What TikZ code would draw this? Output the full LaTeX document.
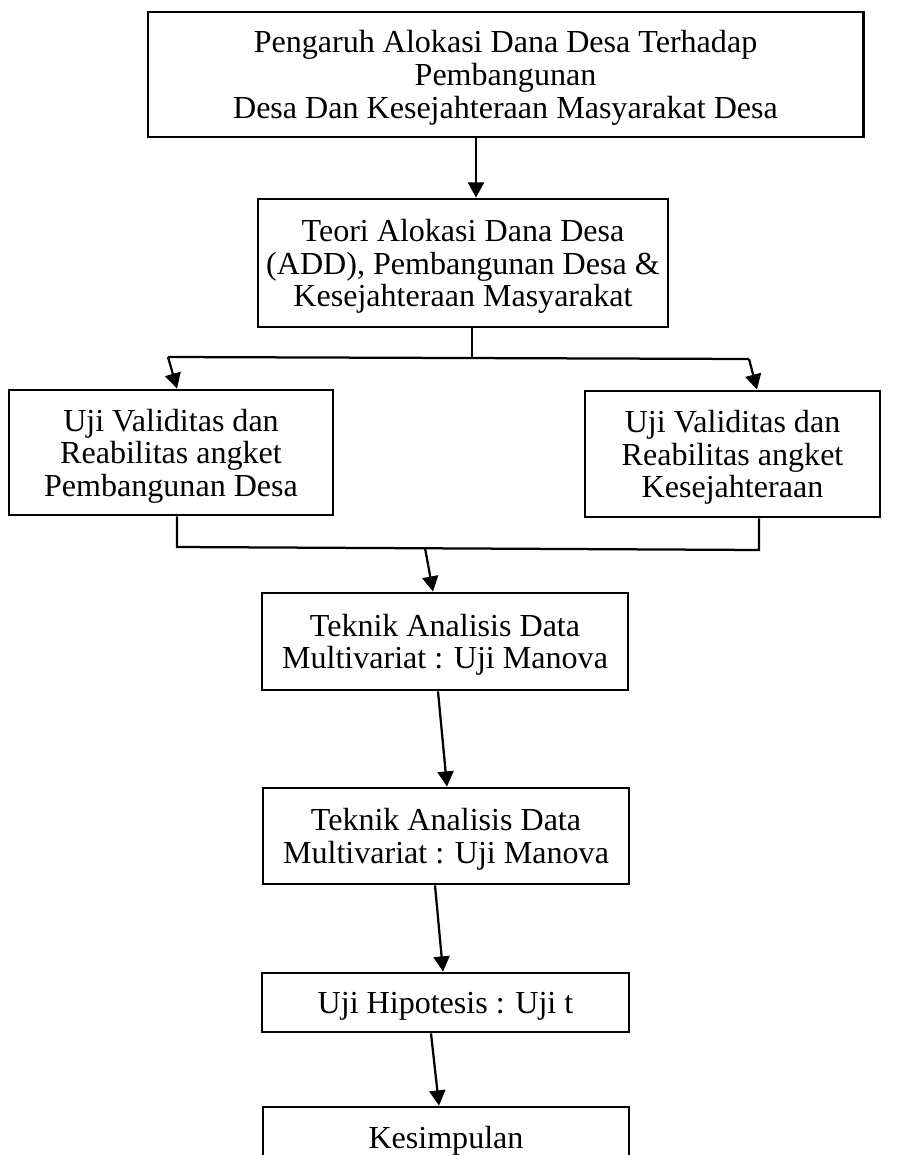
\documentclass[tikz,border=0pt]{standalone}
\usepackage{fontspec}
\setmainfont{Liberation Serif}
\usetikzlibrary{arrows.meta, calc, positioning}

\begin{document}
\begin{tikzpicture}[x=0.025cm, y=-0.025cm,
    kotak/.style={draw, line width=2pt, inner sep=0pt, align=center, text depth=0pt, font=\fontsize{22.8}{23.2}\selectfont},
    garis/.style={line width=1.6pt},
    panah/.style={line width=1.6pt, -{Triangle[length=0.38cm, width=0.4cm]}}]
    \useasboundingbox (0,0) rectangle (896,1155);
    \clip (0,0) rectangle (896,1155);

    \node[kotak, minimum width=17.875cm, minimum height=3.125cm] (judul) at (505.5,74.5)
        {Pengaruh Alokasi Dana Desa Terhadap\\Pembangunan\\Desa Dan Kesejahteraan Masyarakat Desa};

    \node[kotak, minimum width=10.25cm, minimum height=3.2cm] (teori) at (463,263)
        {Teori Alokasi Dana Desa\\(ADD), Pembangunan Desa \&\\Kesejahteraan Masyarakat};

    \node[kotak, minimum width=8.1cm, minimum height=3.125cm] (ujipemb) at (171,452.5)
        {Uji Validitas dan\\Reabilitas angket\\Pembangunan Desa};
    \node[kotak, minimum width=7.375cm, minimum height=3.15cm] (ujikes) at (732.5,454)
        {Uji Validitas dan\\Reabilitas angket\\Kesejahteraan};

    \node[kotak, minimum width=9.15cm, minimum height=2.425cm] (manova1) at (445,641.5)
        {Teknik Analisis Data\\Multivariat : Uji Manova};
    \node[kotak, minimum width=9.15cm, minimum height=2.4cm] (manova2) at (446,836)
        {Teknik Analisis Data\\Multivariat : Uji Manova};

    \node[kotak, minimum width=9.175cm, minimum height=1.475cm] (hipotesis) at (445.5,1002.5)
        {Uji Hipotesis : Uji t};
    \node[kotak, minimum width=9.15cm, minimum height=1.5cm] (simpulan) at (446,1137)
        {Kesimpulan};

    % cabang dan gabungan
    \coordinate (cabtengah) at (472,358);
    \coordinate (cabkiri) at (168,357);
    \coordinate (cabkanan) at (749,359);
    \coordinate (gabkiri) at (177,547);
    \coordinate (gabkanan) at (759,550);
    \coordinate (gabtengah) at (425,548);

    \draw[panah] ($(judul.south)+(-29.5,0)$) -- ($(teori.north)+(13,0)$);
    \draw[garis] ($(teori.south)+(9,0)$) -- (cabtengah);
    \draw[garis] (cabkiri) -- (cabkanan);
    \draw[panah] (cabkiri) -- ($(ujipemb.north)+(6,0)$);
    \draw[panah] (cabkanan) -- ($(ujikes.north)+(24.5,0)$);

    \draw[garis] ($(ujipemb.south)+(6,0)$) -- (gabkiri) -- (gabkanan) -- ($(ujikes.south)+(26.5,0)$);
    \draw[panah] (gabtengah) -- ($(manova1.north)+(-12,0)$);

    \draw[panah] ($(manova1.south)+(-7,0)$) -- ($(manova2.north)+(1,0)$);
    \draw[panah] ($(manova2.south)+(-11,0)$) -- ($(hipotesis.north)+(-2.5,0)$);
    \draw[panah] ($(hipotesis.south)+(-14.5,0)$) -- ($(simpulan.north)+(-7,0)$);
\end{tikzpicture}
\end{document}
